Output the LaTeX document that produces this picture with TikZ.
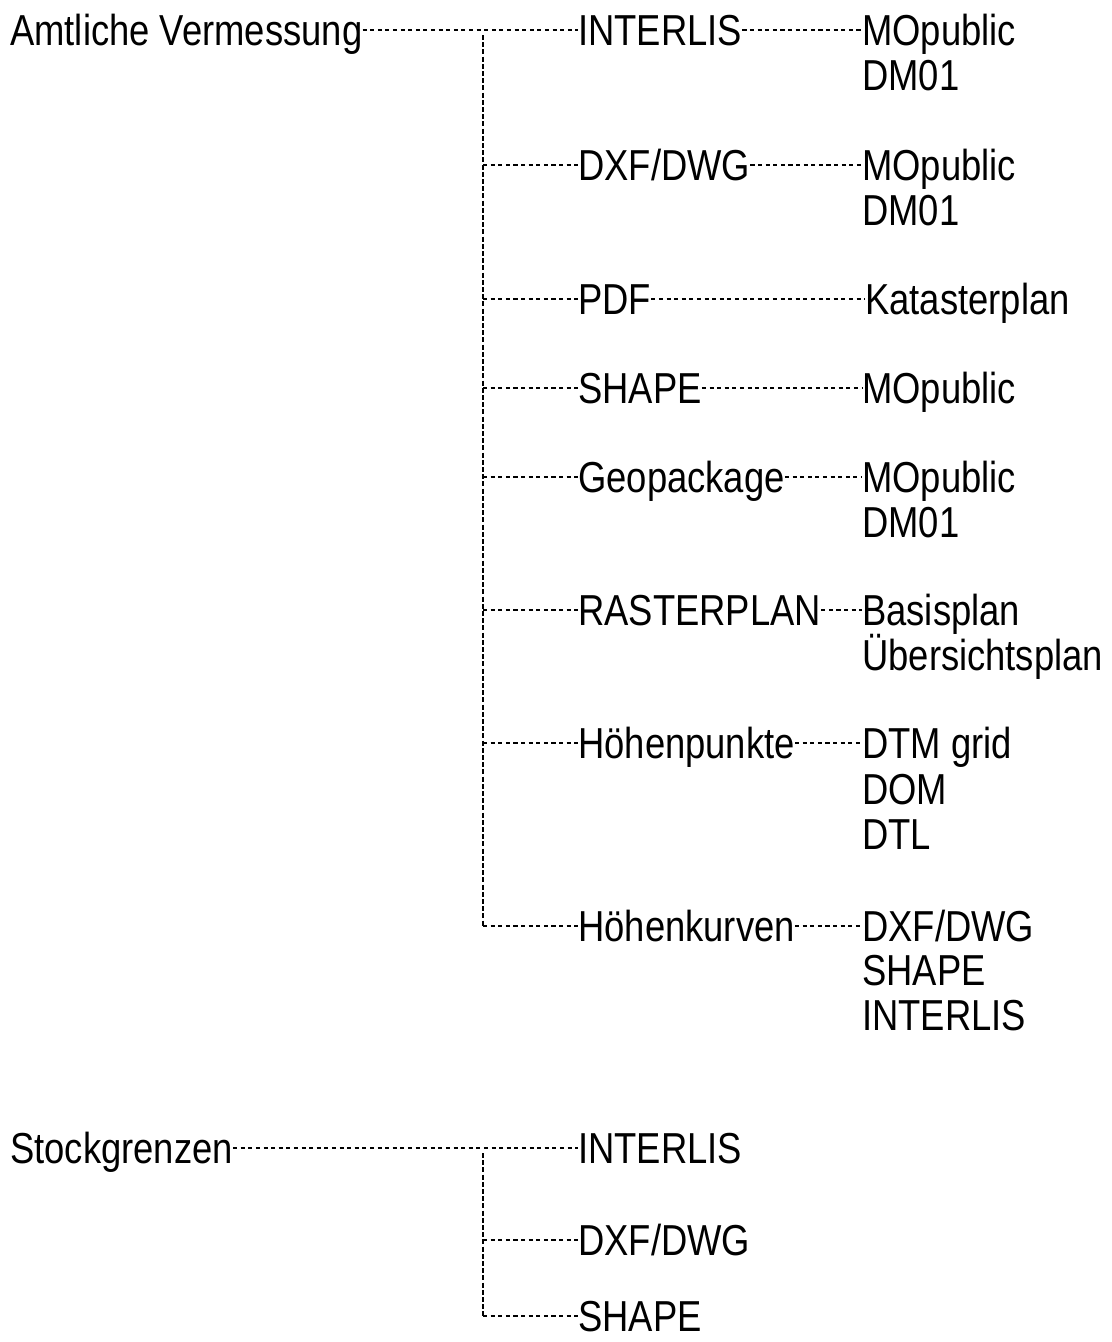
\documentclass[tikz,border=0pt]{standalone}
\usepackage{fontspec}
\setmainfont{Liberation Sans}[FakeStretch=0.84]
\begin{document}
\begin{tikzpicture}[x=0.75pt,y=-0.75pt,
  lbl/.style={anchor=base west,inner sep=0pt,font=\fontsize{32.5}{36}\selectfont},
  hdot/.style={line width=1.2pt,dash pattern=on 3.1pt off 2.6pt},
  vdash/.style={line width=1.2pt,dash pattern=on 3.8pt off 1.6pt}]
\useasboundingbox (0,0) rectangle (1111,1342);
% baseline = line y + 15
\node[lbl] (amt) at (10,45) {Amtliche Vermessung};
\node[lbl] (c1) at (578,45) {INTERLIS};
\node[lbl] (c2) at (578,180) {DXF/DWG};
\node[lbl] (c3) at (578,314) {PDF};
\node[lbl] (c4) at (578,403) {SHAPE};
\node[lbl] (c5) at (578,492) {Geopackage};
\node[lbl] (c6) at (578,625) {RASTERPLAN};
\node[lbl] (c7) at (578,758) {Höhenpunkte};
\node[lbl] (c8) at (578,941) {Höhenkurven};
\node[lbl] (d1) at (862,45) {MOpublic};
\node[lbl] (d1b) at (862,90) {DM01};
\node[lbl] (d2) at (862,180) {MOpublic};
\node[lbl] (d2b) at (862,225) {DM01};
\node[lbl] (d3) at (865,314) {Katasterplan};
\node[lbl] (d4) at (862,403) {MOpublic};
\node[lbl] (d5) at (862,492) {MOpublic};
\node[lbl] (d5b) at (862,537) {DM01};
\node[lbl] (d6) at (862,625) {Basisplan};
\node[lbl] (d6b) at (862,670) {Übersichtsplan};
\node[lbl] (d7) at (862,758) {DTM grid};
\node[lbl] (d7b) at (862,804) {DOM};
\node[lbl] (d7c) at (862,849) {DTL};
\node[lbl] (d8) at (862,941) {DXF/DWG};
\node[lbl] (d8b) at (862,985) {SHAPE};
\node[lbl] (d8c) at (862,1030) {INTERLIS};
\node[lbl] (stk) at (10,1163) {Stockgrenzen};
\node[lbl] (s1) at (578,1163) {INTERLIS};
\node[lbl] (s2) at (578,1255) {DXF/DWG};
\node[lbl] (s3) at (578,1331) {SHAPE};
% connection points (line height above baseline)
\foreach \n in {amt,c1,c2,c3,c4,c5,c6,c7,c8,d1,d2,d3,d4,d5,d6,d7,d8,stk,s1,s2,s3}{
  \coordinate (\n W) at ([yshift=11.25pt]\n.base west);
  \coordinate (\n E) at ([yshift=11.25pt]\n.base east);
}
% first tree
\draw[hdot] (amtE) -- (c1W);
\coordinate (v1top) at (483,35);
\draw[vdash] (v1top) -- (v1top |- c8W);
\foreach \c in {c2,c3,c4,c5,c6,c7,c8}{
  \draw[hdot] (v1top |- \c W) -- (\c W);
}
\foreach \a/\b in {c1/d1,c2/d2,c3/d3,c4/d4,c5/d5,c6/d6,c7/d7,c8/d8}{
  \draw[hdot] (\a E) -- (\b W);
}
% second tree
\draw[hdot] (stkE) -- (s1W);
\coordinate (v2top) at (483,1153);
\draw[vdash] (v2top) -- (v2top |- s3W);
\foreach \c in {s2,s3}{
  \draw[hdot] (v2top |- \c W) -- (\c W);
}
\end{tikzpicture}
\end{document}
